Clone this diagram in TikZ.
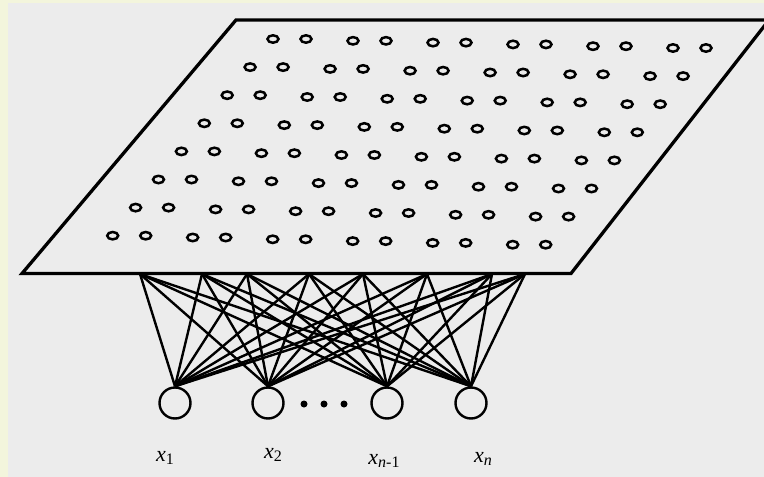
\documentclass[tikz,border=0pt]{standalone}
\usepackage{fontspec}
\setmainfont{Liberation Serif}
\usetikzlibrary{shapes.geometric}
\begin{document}
\begin{tikzpicture}[x=1pt,y=-1pt,
  edgeline/.style={line width=3.3pt,line join=miter},
  link/.style={line width=2.4pt},
  unit/.style={circle,draw,line width=2.4pt,minimum size=31pt,inner sep=0pt},
  cell/.style={ellipse,draw,line width=2.5pt,minimum width=11pt,minimum height=7.4pt,inner sep=0pt},
  dotmark/.style={circle,fill,minimum size=7pt,inner sep=0pt},
  lab/.style={anchor=base,font=\fontsize{22}{24}\selectfont}]
\useasboundingbox (0,0) rectangle (764,477);
\fill[fill={rgb,255:red,236;green,236;blue,236}] (0,0) rectangle (764,477);
\fill[fill={rgb,255:red,243;green,245;blue,220}] (0,0) rectangle (8,477);
\fill[fill={rgb,255:red,243;green,245;blue,220}] (0,0) rectangle (764,3);
\begin{scope}
\clip (0,0) rectangle (764,477);
\coordinate (bl) at (22,273.5);
\coordinate (tl) at (236,20);
\coordinate (tr) at (769,20);
\coordinate (br) at (571,273.5);
\draw[edgeline] (bl) -- (tl) -- (tr) -- (br) -- cycle;
\end{scope}
% grid of cells
\foreach \r in {0,...,7}{
  \foreach \k in {0,...,5}{
    \foreach \j in {0,1}{
      \node[cell] (c\r\k\j) at ({273-22.9*\r+80*\k+33*\j},{39+28.1*\r+1.8*\k}) {};
    }
  }
}
% input units
\node[unit] (u1) at (175,403) {};
\node[unit] (u2) at (268,403) {};
\node[unit] (u3) at (387,403) {};
\node[unit] (u4) at (471,403) {};
\node[dotmark] (d1) at (304,404) {};
\node[dotmark] (d2) at (324,404) {};
\node[dotmark] (d3) at (344,404) {};
% anchor points on bottom edge
\foreach \i/\xx in {1/140,2/202,3/247,4/309,5/363,6/427,7/492,8/525}{
  \coordinate (p\i) at (\xx,274);
}
\foreach \i in {1,...,8}{
  \foreach \u in {1,...,4}{
    \draw[link] (p\i) -- (u\u.north);
  }
}
% labels
\node[lab] (l1) at (165,461) {\textit{x}\raisebox{-0.3ex}{\fontsize{16}{16}\selectfont 1}};
\node[lab] (l2) at (273,458) {\textit{x}\raisebox{-0.3ex}{\fontsize{16}{16}\selectfont 2}};
\node[lab] (l3) at (384,464) {\textit{x}\raisebox{-0.3ex}{\fontsize{16}{16}\selectfont \textit{n}-1}};
\node[lab] (l4) at (483,462) {\textit{x}\raisebox{-0.3ex}{\fontsize{16}{16}\selectfont \textit{n}}};
\end{tikzpicture}
\end{document}
